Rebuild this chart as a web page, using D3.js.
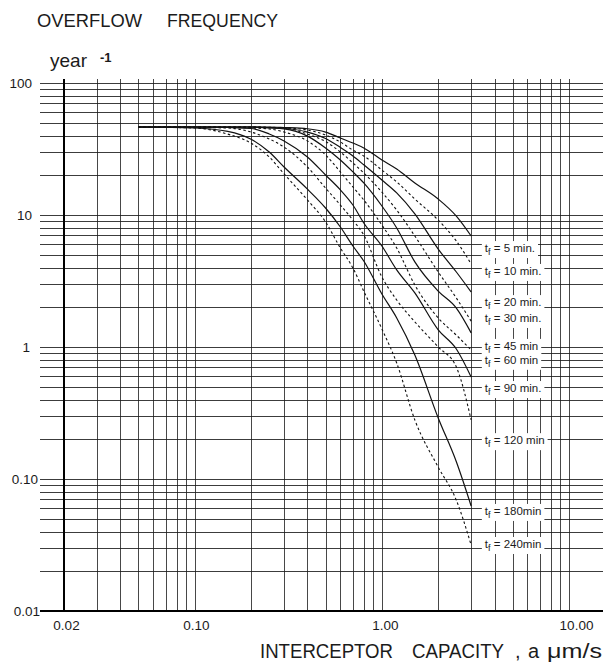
<!DOCTYPE html>
<html><head><meta charset="utf-8">
<script src="https://cdn.jsdelivr.net/npm/d3@7"></script>
<style>body{margin:0;background:#fff} svg{display:block}</style>
</head><body>
<svg id="c" width="603" height="665"></svg>
<script>
// ---------- data ----------
const capacity = [0.05, 0.1, 0.15, 0.2, 0.25, 0.3, 0.4, 0.5, 0.6, 0.7, 0.8, 1.0, 1.2, 1.5, 2.0, 2.5, 3.0];
const durations = [5, 10, 20, 30, 45, 60, 90, 120, 180, 240];
const freq5   = [46.4,46.4,46.4,46.4,46.4,46.0,45.0,42.5,38.3,35.1,32.2,26.1,22.3,17.5,13.2,9.8,6.93];
const freq10  = [46.4,46.4,46.4,46.4,46.2,45.8,44.0,40.4,35.7,31.0,28.0,21.9,17.8,13.2,9.15,6.35,4.26];
const freq20  = [46.4,46.4,46.4,46.4,46.0,45.4,42.5,38.0,32.5,28.0,24.0,18.4,14.7,10.2,5.52,3.70,2.61];
const freq30  = [46.4,46.4,46.4,46.4,46.0,45.6,41.0,36.0,30.0,24.8,20.8,14.9,10.9,6.93,3.70,2.35,1.57];
const freq45  = [46.4,46.4,46.4,46.4,45.6,44.9,39.6,32.2,26.1,21.2,17.5,11.7,7.98,4.41,2.65,1.97,1.28];
const freq60  = [46.4,46.4,46.4,45.6,44.9,42.5,36.4,28.5,21.2,16.3,13.0,8.39,5.62,2.95,1.66,1.23,0.95];
const freq90  = [46.4,46.4,46.0,45.2,41.1,36.4,27.5,20.1,15.5,11.9,8.7,5.82,3.84,2.57,1.35,0.966,0.593];
const freq120 = [46.4,46.0,45.6,42.5,37.7,32.7,23.1,16.0,11.9,9.15,7.05,3.39,2.27,1.55,1.0,0.705,0.28];
const freq180 = [46.4,45.6,43.0,37.5,30.0,23.1,15.7,11.3,8.11,5.82,4.48,2.52,1.66,0.869,0.290,0.135,0.0624];
const freq240 = [46.4,45.6,41.0,35.0,27.5,20.5,13.0,8.86,5.62,3.97,2.65,1.37,0.756,0.280,0.123,0.069,0.0316];
const seriesDashed = [false, true, false, true, false, true, false, true, false, true];
const labelTexts = [" = 5 min.", " = 10 min.", " = 20 min.", " = 30 min.", " = 45 min", " = 60 min", " = 90 min.", " = 120 min", " = 180min", " = 240min"];
const labelFreq = [5.62, 3.77, 2.19, 1.66, 1.02, 0.80, 0.489, 0.197, 0.0573, 0.0322];
const labelCapacity = 3.55;
const xTickValues = [0.02, 0.1, 1, 10];
const xTickLabels = ["0.02", "0.10", "1.00", "10.00"];
const yTickValues = [100, 10, 1, 0.1, 0.01];
const yTickLabels = ["100", "10", "1", "0.10", "0.01"];

const series = [freq5, freq10, freq20, freq30, freq45, freq60, freq90, freq120, freq180, freq240];

// ---------- drawing ----------
const svg = d3.select("#c");
const x = d3.scaleLog().domain([0.02, 10]).range([64, 569]);
const y = d3.scaleLog().domain([0.01, 100]).range([611, 83]);
const gridLeft = 40, gridRight = 603;
const ink = "#1b1b1b";
const font = "Liberation Sans, Arial, sans-serif";

// grid
const g = svg.append("g");
g.selectAll("line.h").data(y.ticks()).join("line")
  .attr("x1", gridLeft).attr("x2", gridRight)
  .attr("y1", d => Math.round(y(d)) + 0.5).attr("y2", d => Math.round(y(d)) + 0.5)
  .attr("stroke", ink).attr("stroke-width", 1).attr("opacity", 0.85);
g.selectAll("line.v").data(x.ticks()).join("line")
  .attr("y1", y(100) - 4).attr("y2", y(0.01))
  .attr("x1", d => Math.round(x(d)) + 0.5).attr("x2", d => Math.round(x(d)) + 0.5)
  .attr("stroke", ink).attr("stroke-width", 1).attr("opacity", 0.8);

// curve labels with white backgrounds
const lab = svg.append("g").attr("font-family", font).attr("font-size", 11.5).attr("fill", ink);
labelTexts.forEach((t, i) => {
  const tx = lab.append("text").attr("x", x(labelCapacity)).attr("y", y(labelFreq[i])).attr("dy", "0.35em")
    .style("white-space", "pre");
  tx.append("tspan").text("t");
  tx.append("tspan").attr("font-size", 9).attr("dy", "3").text("f");
  tx.append("tspan").attr("dy", "-3").text(t);
  const bb = tx.node().getBBox();
  lab.insert("rect", () => tx.node())
    .attr("x", bb.x - 3).attr("y", bb.y - 1).attr("width", bb.width + 6).attr("height", bb.height + 2)
    .attr("fill", "#fff");
});

// curves
const line = d3.line().x((d, i) => x(capacity[i])).y(d => y(d)).curve(d3.curveMonotoneX);
svg.append("g").selectAll("path").data(series).join("path")
  .attr("d", line).attr("fill", "none").attr("stroke", "#111")
  .attr("stroke-width", (d, i) => seriesDashed[i] ? 1.1 : 1.2)
  .attr("stroke-dasharray", (d, i) => seriesDashed[i] ? "2.5,2.5" : null);

// heavy axis lines
svg.append("line").attr("x1", x(0.02)).attr("x2", x(0.02)).attr("y1", y(100) - 4).attr("y2", y(0.01))
  .attr("stroke", "#000").attr("stroke-width", 2);
svg.append("line").attr("x1", gridLeft).attr("x2", gridRight).attr("y1", y(0.01)).attr("y2", y(0.01))
  .attr("stroke", "#000").attr("stroke-width", 2);

// tick labels via axes
const ax = svg.append("g").attr("transform", `translate(0,${y(0.01)})`)
  .call(d3.axisBottom(x).tickValues(xTickValues).tickFormat((d, i) => xTickLabels[i]).tickSize(0).tickPadding(9));
ax.select(".domain").remove();
ax.selectAll("text").attr("font-family", font).attr("font-size", 13.5).attr("fill", ink)
  .attr("dx", (d, i) => [2, 1, 3, 7][i]);

const ay = svg.append("g").attr("transform", `translate(32,0)`)
  .call(d3.axisLeft(y).tickValues(yTickValues).tickFormat((d, i) => yTickLabels[i]).tickSize(0).tickPadding(0));
ay.select(".domain").remove();
ay.selectAll("text").attr("font-family", font).attr("font-size", 13.5).attr("fill", ink)
  .attr("dx", (d, i) => [0, 0, -2, 6, 8][i]);

// titles
const t1 = svg.append("text").attr("y", 27).attr("font-family", font).attr("font-size", 19).attr("fill", ink);
t1.append("tspan").attr("x", 37).attr("textLength", 105).attr("lengthAdjust", "spacingAndGlyphs").text("OVERFLOW");
t1.append("tspan").attr("x", 167).attr("textLength", 111).attr("lengthAdjust", "spacingAndGlyphs").text("FREQUENCY");

svg.append("text").attr("x", 50).attr("y", 67).attr("font-family", font).attr("font-size", 19).attr("fill", ink).text("year");
svg.append("text").attr("x", 100).attr("y", 62).attr("font-family", font).attr("font-size", 13).attr("font-weight", "bold")
  .attr("fill", ink).text("-1");

const t2 = svg.append("text").attr("y", 658).attr("font-family", font).attr("font-size", 20).attr("fill", ink);
t2.append("tspan").attr("x", 260).attr("textLength", 133).attr("lengthAdjust", "spacingAndGlyphs").text("INTERCEPTOR");
t2.append("tspan").attr("x", 412).attr("textLength", 92).attr("lengthAdjust", "spacingAndGlyphs").text("CAPACITY");
t2.append("tspan").attr("x", 515).text(",");
t2.append("tspan").attr("x", 528).text("a");
t2.append("tspan").attr("x", 547).attr("textLength", 55).attr("lengthAdjust", "spacingAndGlyphs").text("μm/s");
</script>
</body></html>
